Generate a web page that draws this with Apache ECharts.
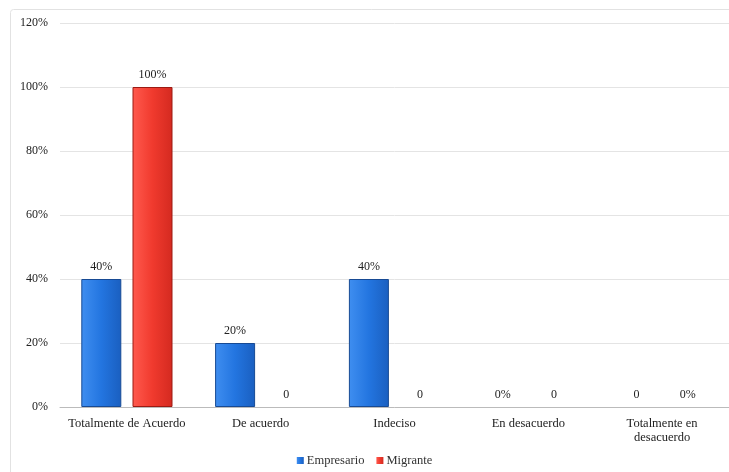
<!DOCTYPE html>
<html>
<head>
<meta charset="utf-8">
<script src="https://cdn.jsdelivr.net/npm/echarts@6/dist/echarts.min.js"></script>
<style>
html,body{margin:0;padding:0;background:#fff;}
#main{width:729px;height:472px;}
</style>
</head>
<body>
<div id="main"></div>
<script>
var categories = ['Totalmente de Acuerdo', 'De acuerdo', 'Indeciso', 'En desacuerdo', 'Totalmente en\ndesacuerdo'];
var empresario = [0.4, 0.2, 0.4, 0, 0];
var migrante = [1, 0, 0, 0, 0];
// etiquetas tal como aparecen en la figura
var empresarioLabels = ['40%', '20%', '40%', '0%', '0'];
var migranteLabels = ['100%', '0', '0', '0', '0%'];

var myChart = echarts.init(document.getElementById('main'));

var blue = new echarts.graphic.LinearGradient(0, 0, 1, 0, [
  {offset: 0, color: '#3f8ef0'},
  {offset: 0.5, color: '#2375e0'},
  {offset: 1, color: '#1a5fc0'}
]);
var red = new echarts.graphic.LinearGradient(0, 0, 1, 0, [
  {offset: 0, color: '#ff5a4e'},
  {offset: 0.5, color: '#f03a2e'},
  {offset: 1, color: '#d42a20'}
]);

// sin borde en las barras de valor 0
function toItems(arr) {
  return arr.map(function (v) {
    return v === 0 ? {value: v, itemStyle: {borderWidth: 0}} : v;
  });
}

var option = {
  textStyle: {fontFamily: 'Liberation Serif'},
  graphic: [{
    type: 'rect',
    shape: {x: 10.5, y: 9.5, width: 730, height: 470, r: 3},
    style: {fill: 'none', stroke: '#e2e2e2', lineWidth: 1},
    silent: true
  }],
  legend: {
    bottom: 0,
    left: 'center',
    itemWidth: 7,
    itemHeight: 7,
    itemGap: 12,
    icon: 'rect',
    itemStyle: {borderWidth: 0},
    textStyle: {fontFamily: 'Liberation Serif', fontSize: 12.5, color: '#333', padding: [0, 0, 0, -2]},
    data: ['Empresario', 'Migrante']
  },
  grid: {left: 60, right: 0, top: 23, bottom: 65},
  xAxis: {
    type: 'category',
    data: categories,
    axisTick: {show: false},
    axisLine: {lineStyle: {color: '#bbb'}},
    axisLabel: {interval: 0, fontFamily: 'Liberation Serif', fontSize: 12.5, color: '#222', margin: 10, lineHeight: 14}
  },
  yAxis: {
    type: 'value',
    min: 0,
    max: 1.2,
    interval: 0.2,
    axisLabel: {
      fontFamily: 'Liberation Serif', fontSize: 12, color: '#222', margin: 12,
      formatter: function (v) { return Math.round(v * 100) + '%'; }
    },
    splitLine: {lineStyle: {color: '#e4e4e4'}}
  },
  series: [
    {
      name: 'Empresario',
      type: 'bar',
      data: toItems(empresario),
      barWidth: 40,
      barGap: '28%',
      itemStyle: {color: blue, borderColor: '#174a94', borderWidth: 1},
      label: {
        show: true, position: 'top', distance: 6,
        fontFamily: 'Liberation Serif', fontSize: 12, color: '#222',
        formatter: function (p) { return empresarioLabels[p.dataIndex]; }
      }
    },
    {
      name: 'Migrante',
      type: 'bar',
      data: toItems(migrante),
      barWidth: 40,
      itemStyle: {color: red, borderColor: '#9c1a12', borderWidth: 1},
      label: {
        show: true, position: 'top', distance: 6,
        fontFamily: 'Liberation Serif', fontSize: 12, color: '#222',
        formatter: function (p) { return migranteLabels[p.dataIndex]; }
      }
    }
  ]
};
myChart.setOption(option);
</script>
</body>
</html>
